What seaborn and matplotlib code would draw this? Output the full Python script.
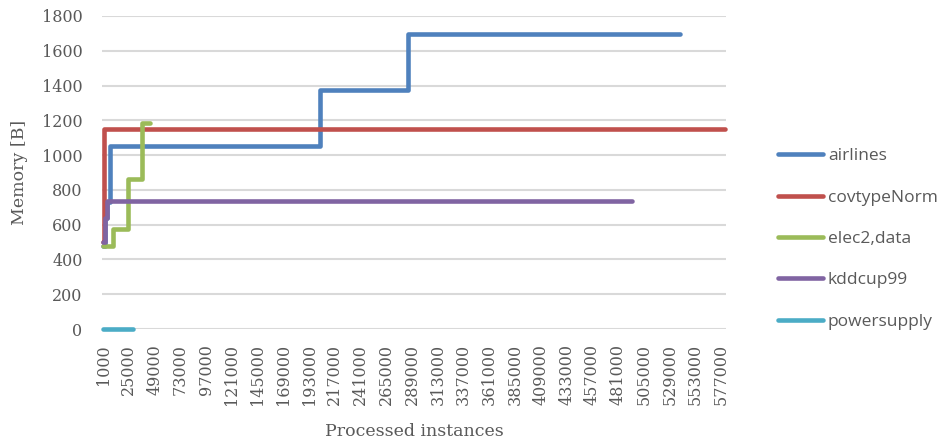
import pandas as pd
import seaborn as sns
import matplotlib.pyplot as plt

# change points of each series (processed instances -> memory in bytes)
airlines_x = [1000, 3000, 5000, 7000, 203000, 285000, 539000]
airlines_y = [480, 640, 730, 1050, 1375, 1695, 1695]
covtype_x = [1000, 2000, 581000]
covtype_y = [500, 1150, 1150]
elec2_x = [1000, 10000, 24000, 37000, 45000]
elec2_y = [480, 575, 865, 1185, 1185]
kdd_x = [1000, 3000, 5000, 494000]
kdd_y = [500, 640, 735, 735]
power_x = [1000, 29000]
power_y = [0, 0]

names = ['airlines', 'covtypeNorm', 'elec2,data', 'kddcup99', 'powersupply']
colors = ['#4F81BD', '#C0504D', '#9BBB59', '#8064A2', '#4BACC6']
tick_pos = list(range(1000, 577001, 24000))

frames = []
for name, xs, ys in zip(names, [airlines_x, covtype_x, elec2_x, kdd_x, power_x],
                        [airlines_y, covtype_y, elec2_y, kdd_y, power_y]):
    frames.append(pd.DataFrame({'instances': xs, 'memory': ys, 'dataset': name}))
df = pd.concat(frames, ignore_index=True)

sns.set_style('white')
fig = plt.figure(figsize=(9.41, 4.45), dpi=100)
ax = fig.add_axes([102 / 941, 116 / 445, 624 / 941, 313 / 445])

ax.yaxis.grid(True, color='#D9D9D9', linewidth=1.5)
ax.set_axisbelow(True)

sns.lineplot(data=df, x='instances', y='memory', hue='dataset', palette=dict(zip(names, colors)),
             drawstyle='steps-post', estimator=None, linewidth=3.3, legend=False, ax=ax,
             solid_capstyle='round', solid_joinstyle='round', clip_on=False)

ax.set_xlim(0, 581500)
ax.set_ylim(0, 1800)
ax.set_yticks(range(0, 1801, 200))
ax.set_xticks(tick_pos)
ax.set_xticklabels([str(t) for t in tick_pos], rotation=90)
for s in ax.spines.values():
    s.set_visible(False)
ax.tick_params(length=0, labelsize=11.5, labelcolor='#595959')
ax.tick_params(axis='x', pad=11)
ax.tick_params(axis='y', pad=14)
for lbl in ax.get_xticklabels() + ax.get_yticklabels():
    lbl.set_family('DejaVu Serif')

ax.set_xlabel('Processed instances', fontsize=12.5, color='#595959', family='DejaVu Serif', labelpad=13)
ax.set_ylabel('Memory [B]', fontsize=12.5, color='#595959', family='DejaVu Serif', labelpad=10)

handles = [plt.Line2D([], [], color=c, lw=3.3, solid_capstyle='round') for c in colors]
fig.legend(handles, names, loc='center left', bbox_to_anchor=(762 / 941, 206 / 445), frameon=False,
           prop={'family': 'Open Sans', 'size': 12.5}, labelcolor='#595959', handlelength=2.6,
           handletextpad=0.3, labelspacing=1.45)

fig.savefig('out.png', dpi=100)
